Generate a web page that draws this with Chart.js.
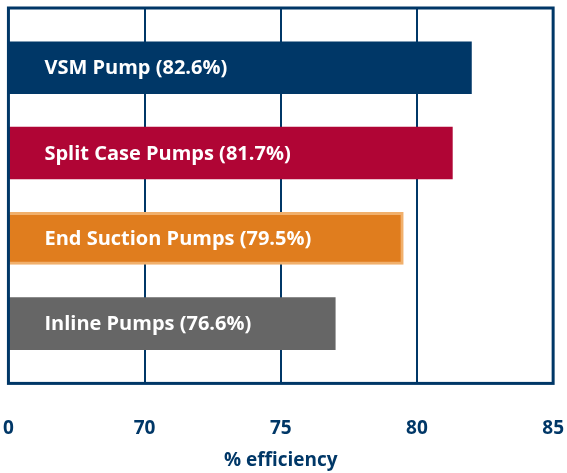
<!DOCTYPE html>
<html>
<head>
<meta charset="utf-8">
<script src="https://cdn.jsdelivr.net/npm/chart.js@4/dist/chart.umd.min.js"></script>
<style>
  html, body { margin: 0; padding: 0; background: #fff; }
  #wrap { width: 567px; height: 473px; }
</style>
</head>
<body>
<div id="wrap"><canvas id="chart"></canvas></div>
<script>
// pump types, top to bottom
const pumps = ['VSM Pump', 'Split Case Pumps', 'End Suction Pumps', 'Inline Pumps'];
// efficiency printed in the labels
const labelValues = [82.6, 81.7, 79.5, 76.6];
// bar ends as drawn in the picture (axis is broken, 0 sits where 65 would be)
const barValues = [82.0, 81.3, 79.5, 77.0];
const tickValues = [65, 70, 75, 80, 85];
const tickLabels = ['0', '70', '75', '80', '85'];

const navy = '#003767';
const fills = ['#003767', '#b00535', '#e07d1e', '#666666'];
const edges = ['#003767', '#b00535', '#f1b06c', '#666666'];

// frame around the plot area
const frame = {
  id: 'frame',
  afterDatasetsDraw(chart) {
    const a = chart.chartArea;
    const ctx = chart.ctx;
    ctx.save();
    ctx.strokeStyle = navy;
    ctx.lineWidth = 3;
    ctx.strokeRect(a.left, a.top, a.right - a.left, a.bottom - a.top);
    ctx.restore();
  }
};

// white text inside each bar
const barText = {
  id: 'barText',
  afterDatasetsDraw(chart) {
    const ctx = chart.ctx;
    const meta = chart.getDatasetMeta(0);
    const left = chart.chartArea.left;
    ctx.save();
    ctx.fillStyle = '#ffffff';
    ctx.font = 'bold 20px "Open Sans"';
    ctx.textBaseline = 'middle';
    ctx.textAlign = 'left';
    meta.data.forEach((bar, i) => {
      ctx.fillText(pumps[i] + ' (' + labelValues[i] + '%)', left + 36, bar.y + 1);
    });
    ctx.restore();
  }
};

new Chart(document.getElementById('chart'), {
  type: 'bar',
  data: {
    datasets: [{
      data: barValues.map((v, i) => ({ x: v, y: i + 1 })),
      backgroundColor: fills,
      borderColor: edges,
      borderWidth: [0, 0, 3, 0],
      borderSkipped: false,
      barThickness: 52
    }]
  },
  options: {
    indexAxis: 'y',
    responsive: true,
    maintainAspectRatio: false,
    animation: false,
    layout: { padding: { left: 8, right: 0, top: 8, bottom: 1 } },
    plugins: {
      legend: { display: false },
      tooltip: { enabled: false }
    },
    scales: {
      y: {
        type: 'linear',
        display: false,
        offset: false,
        reverse: true,
        min: 0.3,
        max: 4.7
      },
      x: {
        type: 'linear',
        min: 65,
        max: 85,
        afterBuildTicks(scale) {
          scale.ticks = tickValues.map(v => ({ value: v }));
        },
        border: { display: false },
        grid: { color: navy, lineWidth: 2, drawTicks: true, tickLength: 31, tickColor: 'rgba(0,0,0,0)' },
        ticks: {
          color: navy,
          padding: 3,
          maxRotation: 0,
          font: { family: 'Open Sans', weight: 'bold', size: 19 },
          callback: (v) => tickLabels[tickValues.indexOf(v)]
        },
        title: {
          display: true,
          text: '% efficiency',
          color: navy,
          padding: { top: 6, bottom: 0 },
          font: { family: 'Open Sans', weight: 'bold', size: 19 }
        }
      }
    }
  },
  plugins: [frame, barText]
});
</script>
</body>
</html>
